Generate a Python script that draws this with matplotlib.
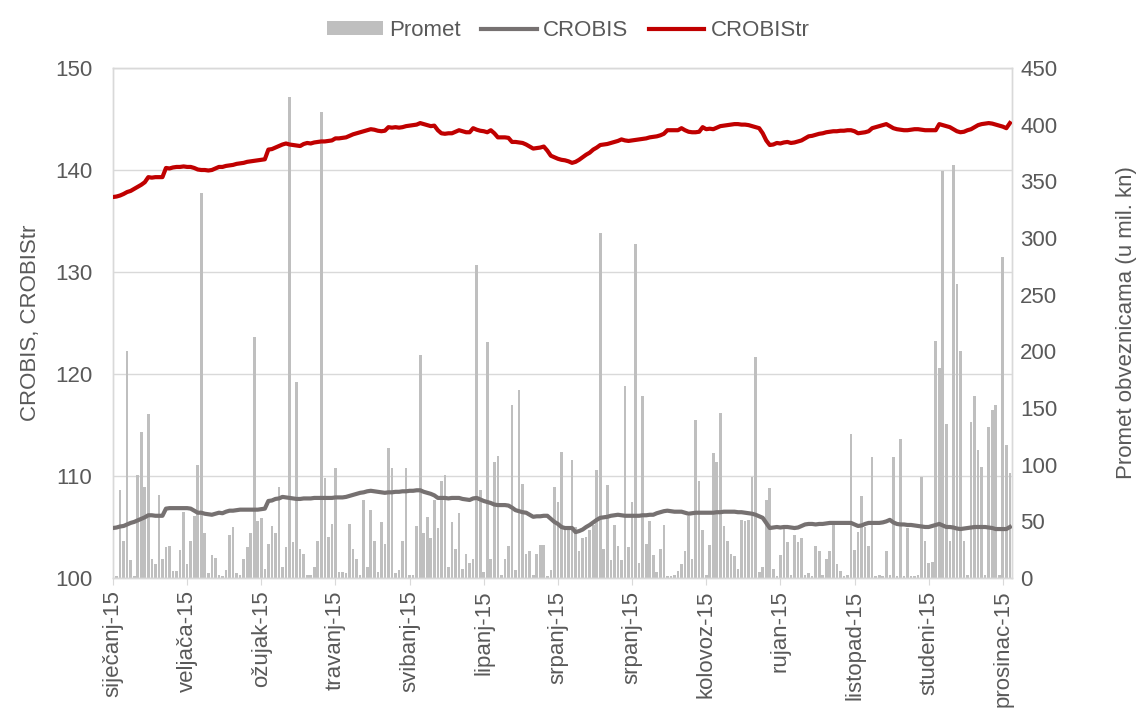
import matplotlib
matplotlib.use("Agg")
import matplotlib.pyplot as plt
from matplotlib.lines import Line2D
from matplotlib.patches import Patch
import numpy as np

plt.rcParams['font.family'] = ['Liberation Sans', 'DejaVu Sans']

tick_labels = ["siječanj-15", "veljača-15", "ožujak-15", "travanj-15", "svibanj-15",
               "lipanj-15", "srpanj-15", "srpanj-15", "kolovoz-15", "rujan-15",
               "listopad-15", "studeni-15", "prosinac-15"]
label_step = 21

promet = [
    3, 2, 78, 33, 200, 16, 2, 91, 129, 80,
    145, 17, 12, 73, 17, 27, 28, 6, 6, 25,
    58, 12, 33, 55, 100, 340, 40, 4, 20, 18,
    3, 2, 7, 38, 45, 4, 3, 17, 27, 40,
    213, 50, 53, 8, 30, 46, 40, 80, 10, 27,
    424, 32, 173, 26, 21, 3, 3, 10, 33, 411,
    88, 36, 48, 97, 5, 5, 4, 48, 26, 17,
    3, 69, 10, 60, 33, 5, 49, 30, 115, 97,
    4, 7, 33, 97, 3, 3, 46, 197, 40, 54,
    35, 69, 44, 86, 91, 10, 49, 26, 57, 8,
    21, 13, 17, 276, 78, 5, 208, 17, 102, 108,
    3, 17, 28, 153, 7, 166, 83, 21, 24, 3,
    21, 29, 29, 2, 7, 80, 67, 111, 46, 45,
    104, 45, 24, 35, 36, 42, 47, 95, 304, 26,
    82, 16, 47, 28, 16, 169, 27, 67, 295, 13,
    161, 30, 50, 20, 5, 26, 47, 2, 2, 3,
    6, 12, 24, 55, 17, 139, 86, 42, 3, 29,
    110, 102, 146, 46, 33, 21, 19, 8, 51, 50,
    51, 89, 195, 5, 10, 69, 79, 8, 2, 20,
    44, 32, 3, 38, 32, 35, 3, 4, 2, 28,
    24, 3, 17, 24, 48, 12, 6, 2, 3, 127,
    25, 41, 72, 45, 28, 107, 2, 3, 2, 24,
    3, 107, 2, 123, 2, 44, 2, 2, 3, 89,
    33, 13, 14, 209, 185, 359, 136, 33, 364, 259,
    200, 33, 3, 138, 161, 113, 98, 3, 133, 148,
    153, 3, 283, 117, 93,
]

crobistr = [
    137.35, 137.40, 137.50, 137.65, 137.84, 137.95, 138.15, 138.35, 138.55, 138.80,
    139.30, 139.25, 139.30, 139.30, 139.30, 140.20, 140.15, 140.25, 140.30, 140.30,
    140.35, 140.30, 140.30, 140.20, 140.05, 140.00, 140.00, 139.95, 140.00, 140.15,
    140.30, 140.30, 140.40, 140.45, 140.50, 140.60, 140.65, 140.70, 140.80, 140.85,
    140.90, 140.95, 141.00, 141.05, 142.00, 142.05, 142.20, 142.35, 142.50, 142.60,
    142.50, 142.45, 142.40, 142.35, 142.55, 142.65, 142.60, 142.70, 142.75, 142.80,
    142.80, 142.85, 142.90, 143.10, 143.10, 143.15, 143.20, 143.35, 143.50, 143.60,
    143.70, 143.80, 143.90, 144.00, 143.95, 143.85, 143.80, 143.85, 144.20, 144.15,
    144.20, 144.15, 144.20, 144.30, 144.35, 144.40, 144.45, 144.60, 144.50, 144.40,
    144.30, 144.35, 143.90, 143.60, 143.55, 143.60, 143.60, 143.75, 143.90, 143.80,
    143.70, 143.70, 144.10, 143.95, 143.85, 143.80, 143.70, 143.90, 143.60, 143.20,
    143.20, 143.20, 143.15, 142.75, 142.75, 142.70, 142.65, 142.50, 142.30, 142.10,
    142.15, 142.20, 142.30, 141.90, 141.40, 141.25, 141.10, 141.00, 140.95, 140.85,
    140.70, 140.80, 141.00, 141.25, 141.50, 141.70, 142.00, 142.20, 142.45, 142.50,
    142.55, 142.65, 142.75, 142.85, 143.00, 142.90, 142.85, 142.90, 142.95, 143.00,
    143.05, 143.10, 143.20, 143.25, 143.30, 143.40, 143.55, 143.90, 143.90, 143.90,
    143.90, 144.10, 143.90, 143.75, 143.70, 143.70, 143.75, 144.20, 144.00, 144.05,
    144.00, 144.15, 144.30, 144.35, 144.40, 144.45, 144.50, 144.50, 144.45, 144.45,
    144.40, 144.30, 144.20, 144.10, 143.60, 142.90, 142.45, 142.50, 142.65, 142.60,
    142.70, 142.75, 142.65, 142.70, 142.80, 142.90, 143.10, 143.30, 143.35, 143.45,
    143.55, 143.60, 143.70, 143.75, 143.80, 143.80, 143.85, 143.85, 143.90, 143.90,
    143.80, 143.60, 143.65, 143.70, 143.80, 144.10, 144.20, 144.30, 144.40, 144.50,
    144.30, 144.10, 144.00, 143.95, 143.90, 143.90, 143.95, 144.00, 144.00, 143.95,
    143.90, 143.90, 143.90, 143.90, 144.50, 144.40, 144.30, 144.20, 144.00, 143.80,
    143.70, 143.75, 143.90, 144.00, 144.20, 144.40, 144.50, 144.55, 144.60, 144.55,
    144.45, 144.35, 144.25, 144.10, 144.60,
]

crobis = [
    104.90, 104.95, 105.05, 105.10, 105.25, 105.40, 105.50, 105.65, 105.80, 105.95,
    106.15, 106.15, 106.10, 106.10, 106.10, 106.80, 106.85, 106.85, 106.85, 106.85,
    106.85, 106.85, 106.80, 106.60, 106.40, 106.40, 106.30, 106.25, 106.20, 106.30,
    106.40, 106.35, 106.50, 106.60, 106.60, 106.65, 106.70, 106.70, 106.70, 106.70,
    106.70, 106.70, 106.75, 106.80, 107.55, 107.60, 107.75, 107.80, 107.95, 107.90,
    107.85, 107.80, 107.75, 107.75, 107.80, 107.80, 107.80, 107.85, 107.85, 107.85,
    107.85, 107.85, 107.85, 107.90, 107.90, 107.90, 107.95, 108.05, 108.15, 108.25,
    108.35, 108.40, 108.50, 108.55, 108.50, 108.45, 108.40, 108.35, 108.40, 108.40,
    108.45, 108.45, 108.50, 108.50, 108.55, 108.55, 108.60, 108.60, 108.45, 108.35,
    108.25, 108.10, 107.85, 107.85, 107.85, 107.80, 107.85, 107.85, 107.85, 107.75,
    107.70, 107.65, 107.80, 107.85, 107.70, 107.55, 107.45, 107.35, 107.20, 107.15,
    107.15, 107.15, 107.10, 106.90, 106.65, 106.55, 106.45, 106.40, 106.20, 106.00,
    106.05, 106.05, 106.10, 106.10, 105.80, 105.50, 105.30, 105.00, 104.90, 104.90,
    104.90, 104.50, 104.60, 104.75, 105.00, 105.20, 105.45, 105.70, 105.90, 105.95,
    106.00, 106.10, 106.15, 106.20, 106.15, 106.10, 106.10, 106.10, 106.10, 106.10,
    106.15, 106.15, 106.20, 106.20, 106.35, 106.45, 106.55, 106.60, 106.55, 106.50,
    106.50, 106.50, 106.40, 106.30, 106.35, 106.40, 106.40, 106.40, 106.40, 106.40,
    106.40, 106.45, 106.45, 106.50, 106.50, 106.50, 106.50, 106.45, 106.45, 106.40,
    106.35, 106.30, 106.20, 106.05, 105.90, 105.40, 104.90, 104.95, 105.00, 104.95,
    105.00, 105.00, 104.95, 104.90, 104.95, 105.10, 105.25, 105.30, 105.30, 105.25,
    105.30, 105.30, 105.35, 105.40, 105.40, 105.40, 105.40, 105.40, 105.40, 105.40,
    105.25, 105.10, 105.15, 105.30, 105.40, 105.40, 105.40, 105.40, 105.45, 105.55,
    105.70, 105.45, 105.30, 105.25, 105.25, 105.20, 105.20, 105.15, 105.10, 105.05,
    105.00, 105.00, 105.10, 105.20, 105.30, 105.15, 105.00, 105.00, 104.95, 104.85,
    104.80, 104.85, 104.90, 104.95, 105.00, 105.00, 105.00, 105.00, 104.95, 104.90,
    104.80, 104.80, 104.80, 104.80, 105.00,
]

TXT = '#595959'
GRID = '#D9D9D9'
BAR = '#BFBFBF'
C_GRAY = '#767171'
C_RED = '#C00000'
FS = 16

fig = plt.figure(figsize=(11.37, 7.08), dpi=100)
ax = fig.add_axes([113/1137, 1-578/708, (1012-113)/1137, (578-68)/708])
ax2 = ax.twinx()

x = np.arange(len(promet))

# bars on the secondary axis (drawn underneath)
ax2.bar(x, promet, width=0.75, color=BAR, zorder=2)
ax2.set_ylim(0, 450)
ax2.set_yticks(np.arange(0, 451, 50))
# gridlines matching left-axis ticks
for v in np.arange(0, 451, 90):
    ax2.axhline(v, color=GRID, lw=1, zorder=0)

# lines on primary axis, above bars
ax.set_zorder(ax2.get_zorder() + 1)
ax.patch.set_visible(False)
ax.plot(x, crobis, color=C_GRAY, lw=3.0, solid_joinstyle='round', zorder=3)
ax.plot(x, crobistr, color=C_RED, lw=3.0, solid_joinstyle='round', zorder=4)
ax.set_ylim(100, 150)
ax.set_yticks(np.arange(100, 151, 10))
ax.set_xlim(0, len(promet) - 0.4)

tick_pos = np.arange(len(tick_labels)) * label_step
ax.set_xticks(tick_pos)
ax.set_xticklabels(tick_labels, rotation=90, fontsize=FS, color=TXT)

for a in (ax, ax2):
    for s in a.spines.values():
        s.set_color(GRID)
        s.set_linewidth(1)
ax.tick_params(axis='x', length=5, color=GRID, pad=4)
ax.tick_params(axis='y', length=0, labelsize=FS, labelcolor=TXT, pad=15)
ax2.tick_params(axis='y', length=0, labelsize=FS, labelcolor=TXT, pad=6)

ax.set_ylabel("CROBIS, CROBIStr", fontsize=FS, color=TXT, labelpad=10)
ax2.set_ylabel("Promet obveznicama (u mil. kn)", fontsize=FS, color=TXT, labelpad=42)

handles = [Patch(facecolor=BAR, edgecolor='none'),
           Line2D([0], [0], color=C_GRAY, lw=3),
           Line2D([0], [0], color=C_RED, lw=3)]
fig.legend(handles, ["Promet", "CROBIS", "CROBIStr"], loc='upper center',
           bbox_to_anchor=(0.5, 1.0), ncol=3, frameon=False, fontsize=FS,
           labelcolor=TXT, handlelength=2.5, handleheight=0.6,
           columnspacing=0.9, handletextpad=0.3)

fig.savefig("out.png", dpi=100)
